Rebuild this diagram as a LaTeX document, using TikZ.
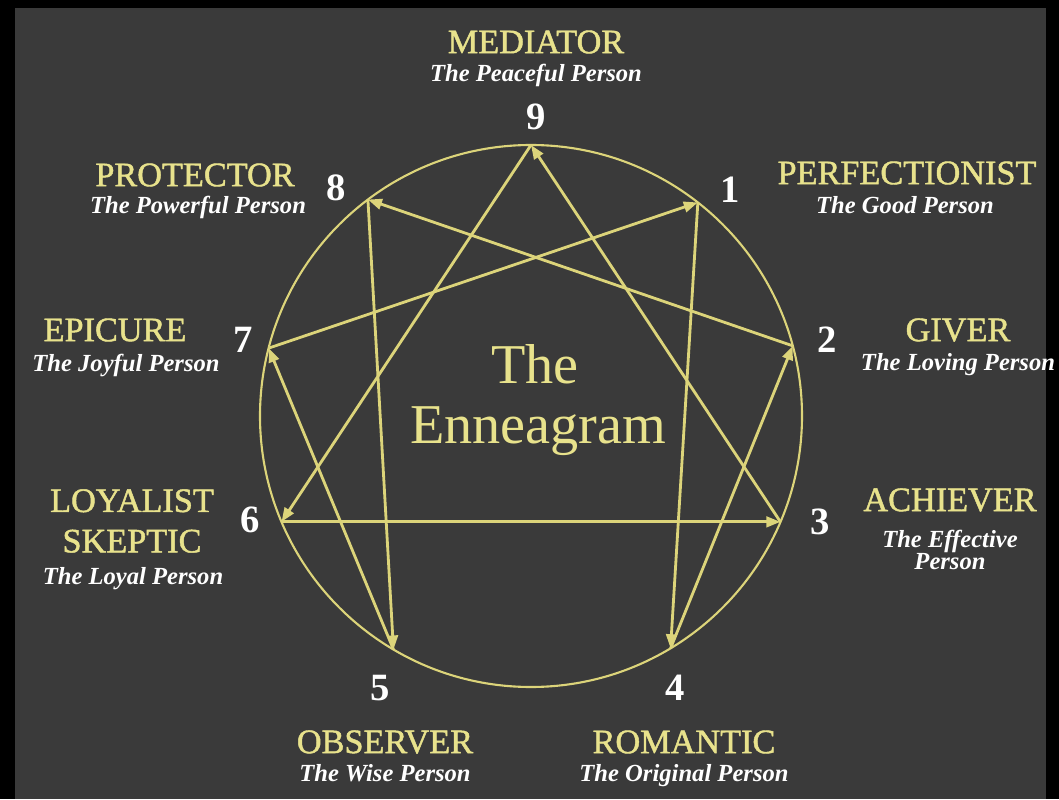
\documentclass[tikz,border=0pt]{standalone}
\usepackage{fontspec}
\setmainfont{Liberation Serif}
\newfontfamily\capsfont[FakeBold=1.3]{Liberation Serif}
\usetikzlibrary{arrows.meta}
\definecolor{board}{RGB}{58,58,58}
\definecolor{chalk}{RGB}{232,226,140}
\definecolor{wire}{RGB}{220,212,122}
\begin{document}
\begin{tikzpicture}[x=0.02cm,y=0.02cm,
    title/.style={text=chalk,font=\capsfont\fontsize{19.5}{21}\selectfont,inner sep=0pt},
    subtitle/.style={text=white,font=\fontsize{14}{15}\selectfont\bfseries\itshape,inner sep=0pt,text height=10pt,text depth=3pt},
    num/.style={text=white,font=\fontsize{22}{23}\selectfont\bfseries,inner sep=0pt},
    flow/.style={draw=wire,line width=1.6pt,-{Triangle[length=8pt,width=6pt]}}]
    % Fondo
    \fill[black] (0,0) rectangle (1059,799);
    \fill[board] (15,0) rectangle (1046,791);
    \useasboundingbox (0,0) rectangle (1059,799);
    % Circulo y puntos
    \begin{scope}[shift={(531,383)}]
        \draw[wire,line width=1.2pt] (0,0) circle (271);
        \coordinate (p9) at (90:271);
        \coordinate (p1) at (52:271);
        \coordinate (p2) at (15:271);
        \coordinate (p3) at (-23:271);
        \coordinate (p4) at (-59:271);
        \coordinate (p5) at (-120.5:271);
        \coordinate (p6) at (-157:271);
        \coordinate (p7) at (165.5:271);
        \coordinate (p8) at (127:271);
    \end{scope}
    % Triangulo
    \draw[flow] (p9) -- (p6);
    \draw[flow] (p6) -- (p3);
    \draw[flow] (p3) -- (p9);
    % Hexada
    \draw[flow] (p1) -- (p4);
    \draw[flow] (p4) -- (p2);
    \draw[flow] (p2) -- (p8);
    \draw[flow] (p8) -- (p5);
    \draw[flow] (p5) -- (p7);
    \draw[flow] (p7) -- (p1);
    % Centro
    \node[text=chalk,font=\fontsize{32}{34}\selectfont,anchor=base] (the) at (535,416) {The};
    \node[text=chalk,font=\fontsize{32}{34}\selectfont,anchor=base] (ennea) at (538,356) {Enneagram};
    % Numeros
    \node[num] (n9) at (536,682) {9};
    \node[num] (n1) at (730,609) {1};
    \node[num] (n2) at (827,459) {2};
    \node[num] (n3) at (820,277) {3};
    \node[num] (n4) at (675,111) {4};
    \node[num] (n5) at (380,111) {5};
    \node[num] (n6) at (250,279) {6};
    \node[num] (n7) at (243,459) {7};
    \node[num] (n8) at (336,611) {8};
    % Tipos
    \node[title] (t9) at (536,757) {MEDIATOR};
    \node[subtitle] (s9) at (536,724) {The Peaceful Person};
    \node[title] (t1) at (907,626) {PERFECTIONIST};
    \node[subtitle] (s1) at (905,592) {The Good Person};
    \node[title] (t2) at (958,469) {GIVER};
    \node[subtitle] (s2) at (958,435) {The Loving Person};
    \node[title] (t3) at (950,299) {ACHIEVER};
    \node[subtitle,align=center,text height=,text depth=] (s3) at (950,249) {The Effective\\[-2pt]Person};
    \node[title] (t4) at (684,57) {ROMANTIC};
    \node[subtitle] (s4) at (684,24) {The Original Person};
    \node[title] (t5) at (385,57) {OBSERVER};
    \node[subtitle] (s5) at (385,24) {The Wise Person};
    \node[title,align=center] (t6) at (132,278) {LOYALIST\\[2pt]SKEPTIC};
    \node[subtitle] (s6) at (133,221) {The Loyal Person};
    \node[title] (t7) at (115,469) {EPICURE};
    \node[subtitle] (s7) at (126,434) {The Joyful Person};
    \node[title] (t8) at (195,624) {PROTECTOR};
    \node[subtitle] (s8) at (198,592) {The Powerful Person};
\end{tikzpicture}
\end{document}
